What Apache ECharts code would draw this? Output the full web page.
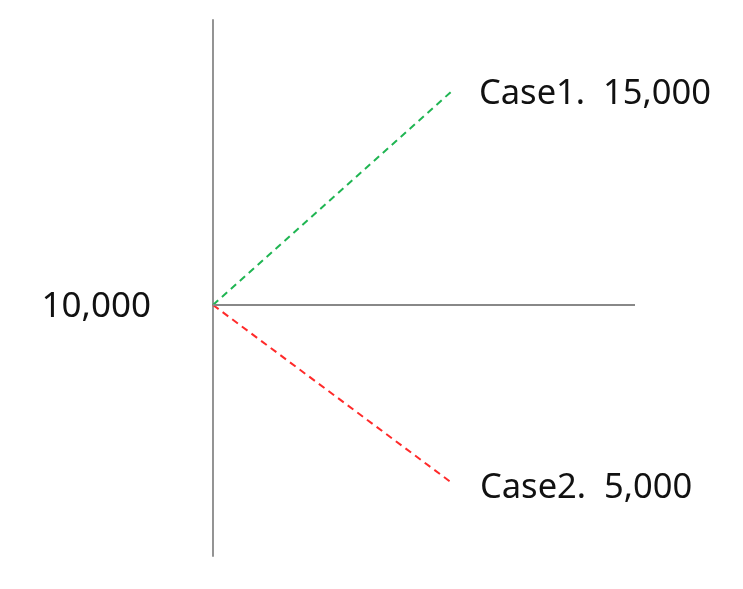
<!DOCTYPE html>
<html>
<head>
<meta charset="utf-8">
<style>
html,body{margin:0;padding:0;background:#fff;}
#c{width:743px;height:589px;}
</style>
<script src="https://cdn.jsdelivr.net/npm/echarts@6/dist/echarts.min.js"></script>
</head>
<body>
<div id="c"></div>
<script>
const steps = [0, 1];
const case1 = [10000, 15000];
const case2 = [10000, 5000];
const baseValue = 10000;
const case1Name = 'Case1.';
const case2Name = 'Case2.';
const baseLabel = '10,000';

const fmt = v => v.toLocaleString('en-US');
const FONT = '"Noto Sans", sans-serif';

const chart = echarts.init(document.getElementById('c'));
chart.setOption({
  animation: false,
  backgroundColor: '#fff',
  grid: { left: 213, top: 20, width: 422, height: 536 },
  xAxis: { type: 'value', min: 0, max: 1.766, show: false },
  yAxis: [
    { type: 'value', min: 4137, max: 16659,
      axisLine: { show: true, lineStyle: { color: '#888', width: 1.8 } },
      axisTick: { show: false }, axisLabel: { show: false }, splitLine: { show: false } },
    { type: 'value', min: 2949, max: 18005, show: false, position: 'left' }
  ],
  series: [
    {
      type: 'line', yAxisIndex: 0,
      data: steps.map((x, i) => [x, case1[i]]),
      symbol: 'none',
      lineStyle: { color: '#1fb552', width: 2, type: [7, 5] },
      endLabel: { show: true, formatter: () => case1Name + '  ' + fmt(case1[case1.length - 1]),
        color: '#111', fontSize: 34.5, fontFamily: FONT, distance: 27, offset: [0, 3] },
      markLine: {
        silent: true, symbol: 'none',
        lineStyle: { color: '#888', width: 1.8, type: 'solid' },
        label: { show: true, position: 'start', formatter: baseLabel, color: '#111',
          fontSize: 35, fontFamily: FONT, distance: 62, offset: [0, 2] },
        data: [{ yAxis: baseValue }]
      }
    },
    {
      type: 'line', yAxisIndex: 1,
      data: steps.map((x, i) => [x, case2[i]]),
      symbol: 'none',
      lineStyle: { color: '#ff2a2a', width: 2, type: [7, 5] },
      endLabel: { show: true, formatter: () => case2Name + '  ' + fmt(case2[case2.length - 1]),
        color: '#111', fontSize: 34.5, fontFamily: FONT, distance: 28, offset: [0, 5] }
    }
  ]
});
</script>
</body>
</html>
